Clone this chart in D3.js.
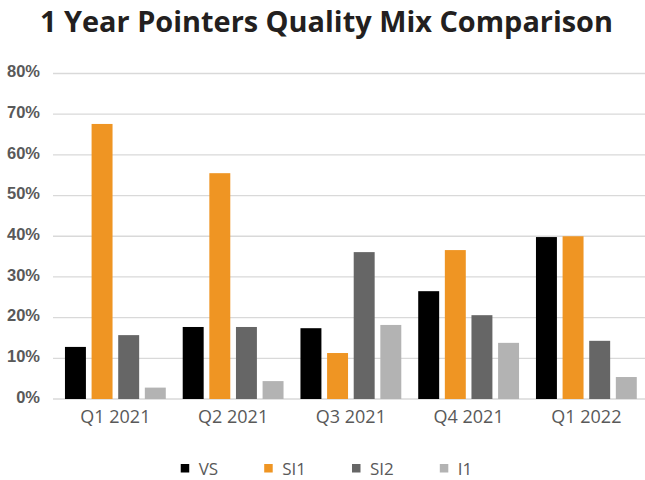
<!DOCTYPE html>
<html>
<head>
<meta charset="utf-8">
<script src="https://cdn.jsdelivr.net/npm/d3@7"></script>
<style>
  html, body { margin: 0; padding: 0; background: #fff; }
  svg { display: block; }
</style>
</head>
<body>
<svg id="chart" width="645" height="480"></svg>
<script>
const categories = ["Q1 2021", "Q2 2021", "Q3 2021", "Q4 2021", "Q1 2022"];
const seriesNames = ["VS", "SI1", "SI2", "I1"];
const seriesColors = ["#000000", "#EF9523", "#666666", "#B3B3B3"];
const valuesVS  = [0.128, 0.177, 0.174, 0.265, 0.398];
const valuesSI1 = [0.676, 0.555, 0.113, 0.366, 0.400];
const valuesSI2 = [0.157, 0.177, 0.361, 0.206, 0.143];
const valuesI1  = [0.028, 0.044, 0.182, 0.138, 0.054];
const yTicks = [0, 0.1, 0.2, 0.3, 0.4, 0.5, 0.6, 0.7, 0.8];
const titleText = "1 Year Pointers Quality Mix Comparison";

const seriesValues = [valuesVS, valuesSI1, valuesSI2, valuesI1];

const svg = d3.select("#chart");

const x = d3.scaleBand().domain(categories).range([56.5, 645.25]).paddingInner(0).paddingOuter(0);
const xInner = d3.scaleBand().domain(seriesNames).range([0, x.bandwidth()])
  .paddingInner(0.213).paddingOuter(0.318);
const y = d3.scaleLinear().domain([0, 0.8]).range([399, 73.5]);

// Title
const title = svg.append("text")
  .attr("x", 326.5).attr("y", 32)
  .attr("text-anchor", "middle")
  .attr("font-family", "'Open Sans', sans-serif")
  .attr("font-weight", "bold")
  .attr("font-size", 29)
  .attr("fill", "#231F20")
  .text(titleText);
// fit title width to reference span
const tw = title.node().getComputedTextLength();
title.attr("textLength", 573).attr("lengthAdjust", "spacingAndGlyphs");
if (Math.abs(tw - 573) > 40) title.attr("textLength", null);

// Gridlines
svg.append("g").selectAll("line").data(yTicks).join("line")
  .attr("x1", 53).attr("x2", 645)
  .attr("y1", d => y(d)).attr("y2", d => y(d))
  .attr("stroke", "#D9D9D9").attr("stroke-width", 1.3);

// Y axis labels
const yAxis = d3.axisLeft(y).tickValues(yTicks).tickFormat(d3.format(".0%")).tickSize(0).tickPadding(0);
const yg = svg.append("g").attr("transform", "translate(40,0)").call(yAxis);
yg.select(".domain").remove();
yg.selectAll("text")
  .attr("font-family", "'Liberation Sans', Arial, sans-serif")
  .attr("font-weight", "bold")
  .attr("font-size", 16.5)
  .attr("fill", "#595959")
  .attr("dy", "0.2em");

// Bars
const groups = svg.append("g").selectAll("g").data(seriesNames).join("g")
  .attr("fill", (d, i) => seriesColors[i]);
groups.selectAll("rect")
  .data((s, si) => categories.map((c, ci) => ({ c, s, v: seriesValues[si][ci] })))
  .join("rect")
  .attr("x", d => x(d.c) + xInner(d.s))
  .attr("width", xInner.bandwidth())
  .attr("y", d => y(d.v))
  .attr("height", d => y(0) - y(d.v));

// X axis labels
const xAxis = d3.axisBottom(x).tickSize(0).tickPadding(0);
const xg = svg.append("g").attr("transform", "translate(0,404.5)").call(xAxis);
xg.select(".domain").remove();
xg.selectAll("text")
  .attr("font-family", "'Open Sans', sans-serif")
  .attr("font-size", 18)
  .attr("fill", "#595959")
  .attr("dy", "1.0em");

// Legend
const legend = svg.append("g");
const legendItems = legend.selectAll("g").data(seriesNames).join("g");
legendItems.append("rect")
  .attr("width", 8.5).attr("height", 8.5)
  .attr("y", 464)
  .attr("fill", (d, i) => seriesColors[i]);
legendItems.append("text")
  .attr("x", 18).attr("y", 475)
  .attr("font-family", "'Open Sans', sans-serif")
  .attr("font-size", 17)
  .attr("fill", "#595959")
  .text(d => d);
let cx = 0;
const offsets = [];
legendItems.each(function () {
  const w = d3.select(this).select("text").node().getComputedTextLength();
  offsets.push(cx);
  cx += 18 + w + 46;
});
const totalW = cx - 46;
const startX = 326.5 - totalW / 2;
legendItems.attr("transform", (d, i) => `translate(${startX + offsets[i]},0)`);
</script>
</body>
</html>
